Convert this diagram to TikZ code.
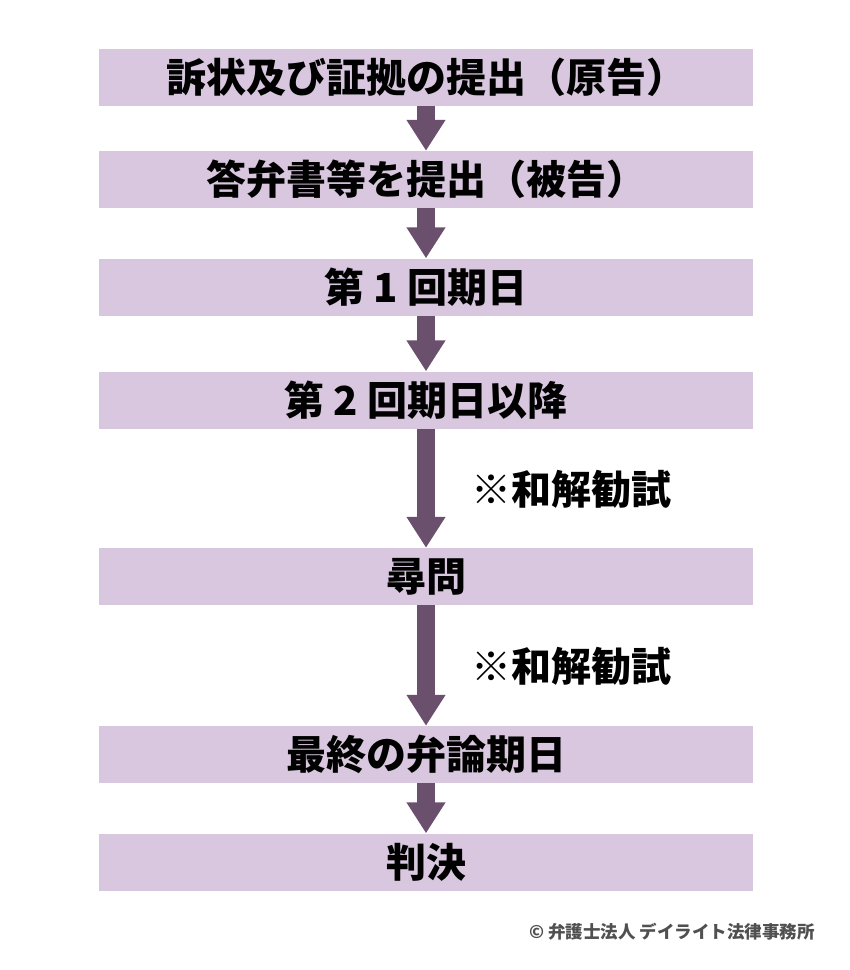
\documentclass[tikz,border=0pt]{standalone}
\usepackage{fontspec}
\setmainfont{Noto Sans CJK JP}
\usetikzlibrary{positioning, arrows.meta}
\definecolor{cBox}{RGB}{216,199,222}
\definecolor{cArr}{RGB}{107,80,110}
\definecolor{cMark}{RGB}{80,80,80}

\begin{document}
\begin{tikzpicture}[x=1pt, y=-1pt,
                    box/.style={fill=cBox, draw=none, minimum width=654pt, minimum height=57pt, inner sep=0pt,
                                font=\fontsize{40}{40}\selectfont\bfseries},
                    arr/.style={draw=cArr, line width=18pt, -{Triangle[width=37pt, length=31pt]}},
                    note/.style={anchor=west, inner sep=0pt, font=\fontsize{40}{40}\selectfont\bfseries}]
    \useasboundingbox (0,0) rectangle (850,970);

    % Steps from top to bottom
    \node[box] (B1) at (426,77)    {訴状及び証拠の提出（原告）};
    \node[box] (B2) at (426,179.5) {答弁書等を提出（被告）};
    \node[box] (B3) at (426,287)   {第 1 回期日};
    \node[box] (B4) at (426,400)   {第 2 回期日以降};
    \node[box] (B5) at (426,576.5) {尋問};
    \node[box] (B6) at (426,754.5) {最終の弁論期日};
    \node[box] (B7) at (426,862)   {判決};

    % Side notes
    \node[note] (N1) at (471,489) {※和解勧試};
    \node[note] (N2) at (471,666) {※和解勧試};

    % Arrows between steps
    \draw[arr] (B1.south) -- (B2.north);
    \draw[arr] (B2.south) -- (B3.north);
    \draw[arr] (B3.south) -- (B4.north);
    \draw[arr] (B4.south) -- (B5.north);
    \draw[arr] (B5.south) -- (B6.north);
    \draw[arr] (B6.south) -- (B7.north);

    \node[anchor=east, inner sep=0pt, text=cMark, font=\fontsize{17.5}{17.5}\selectfont\bfseries] (C) at (815,932)
        {© 弁護士法人 デイライト法律事務所};
\end{tikzpicture}
\end{document}
